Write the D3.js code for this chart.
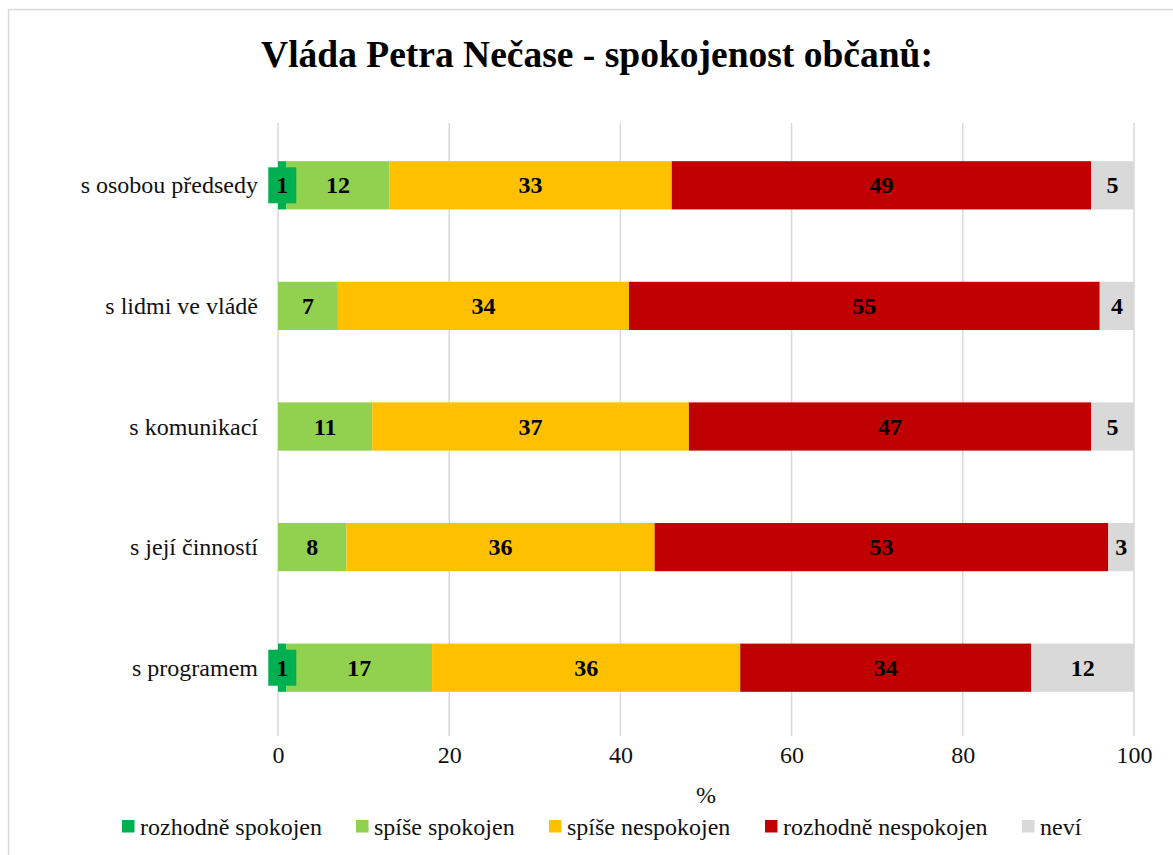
<!DOCTYPE html>
<html>
<head>
<meta charset="utf-8">
<script src="https://cdn.jsdelivr.net/npm/d3@7"></script>
<style>
  body { margin: 0; background: #fff; }
  text { font-family: "Liberation Serif", "Times New Roman", serif; }
</style>
</head>
<body>
<script>
const categories = ["s osobou předsedy", "s lidmi ve vládě", "s komunikací", "s její činností", "s programem"];
const seriesNames = ["rozhodně spokojen", "spíše spokojen", "spíše nespokojen", "rozhodně nespokojen", "neví"];
const colors = ["#00B050", "#92D050", "#FFC000", "#C00000", "#D9D9D9"];
const rozhodneSpokojen = [1, 0, 0, 0, 1];
const spiseSpokojen = [12, 7, 11, 8, 17];
const spiseNespokojen = [33, 34, 37, 36, 36];
const rozhodneNespokojen = [49, 55, 47, 53, 34];
const nevi = [5, 4, 5, 3, 12];
const xTicks = [0, 20, 40, 60, 80, 100];

const w = 1173, h = 855;
const svg = d3.select("body").append("svg").attr("width", w).attr("height", h);

// chart frame
svg.append("rect").attr("x", 8.5).attr("y", 9.5).attr("width", w).attr("height", h)
  .attr("fill", "#fff").attr("stroke", "#d9d9d9").attr("stroke-width", 1.5);

svg.append("text").attr("x", 597).attr("y", 67).attr("text-anchor", "middle")
  .attr("font-size", 37.5).attr("font-weight", "bold").text("Vláda Petra Nečase - spokojenost občanů:");

const table = categories.map((c, i) => ({
  cat: c,
  vals: [rozhodneSpokojen[i], spiseSpokojen[i], spiseNespokojen[i], rozhodneNespokojen[i], nevi[i]]
}));

const x = d3.scaleLinear().domain([0, 100]).range([278, 1134]);
const y = d3.scaleBand().domain(categories).range([125, 728]).paddingInner(0.6).paddingOuter(0.3);

// gridlines
svg.append("g").selectAll("line").data(xTicks).enter().append("line")
  .attr("x1", d => x(d)).attr("x2", d => x(d))
  .attr("y1", 123).attr("y2", 736)
  .attr("stroke", "#d9d9d9").attr("stroke-width", 1.5);

// x axis labels
const xAxis = d3.axisBottom(x).tickValues(xTicks).tickSize(0).tickPadding(0);
const ax = svg.append("g").attr("transform", "translate(0,763)").call(xAxis);
ax.select(".domain").remove();
ax.selectAll("text").attr("font-size", 24).attr("fill", "#111")
  .attr("font-family", "Liberation Serif, Times New Roman, serif").attr("dy", 0);

svg.append("text").attr("x", 706).attr("y", 803).attr("text-anchor", "middle")
  .attr("font-size", 24).attr("fill", "#111").text("%");

// category labels
svg.append("g").selectAll("text").data(categories).enter().append("text")
  .attr("x", 258).attr("y", d => y(d) + y.bandwidth() / 2 + 8)
  .attr("text-anchor", "end").attr("font-size", 24).attr("fill", "#111").text(d => d);

// stacked segments
const segs = [];
table.forEach(r => {
  let acc = 0;
  r.vals.forEach((v, k) => {
    if (v > 0) segs.push({ cat: r.cat, k, v, x0: acc, x1: acc + v });
    acc += v;
  });
});

svg.append("g").selectAll("rect").data(segs).enter().append("rect")
  .attr("x", d => x(d.x0)).attr("width", d => x(d.x1) - x(d.x0))
  .attr("y", d => y(d.cat)).attr("height", y.bandwidth())
  .attr("fill", d => colors[d.k]);

// callout box for tiny values
const small = segs.filter(d => d.v < 3);
svg.append("g").selectAll("rect").data(small).enter().append("rect")
  .attr("x", d => x((d.x0 + d.x1) / 2) - 14).attr("width", 28)
  .attr("y", d => y(d.cat) + y.bandwidth() / 2 - 18).attr("height", 36)
  .attr("fill", d => colors[d.k]);

svg.append("g").selectAll("text").data(segs).enter().append("text")
  .attr("x", d => x((d.x0 + d.x1) / 2))
  .attr("y", d => y(d.cat) + y.bandwidth() / 2 + 8)
  .attr("text-anchor", "middle").attr("font-size", 24).attr("font-weight", "bold")
  .text(d => d.v);

// legend
const legendX = [122, 356, 549, 765, 1022];
const lg = svg.append("g").selectAll("g").data(seriesNames).enter().append("g")
  .attr("transform", (d, i) => `translate(${legendX[i]},820)`);
lg.append("rect").attr("width", 12.5).attr("height", 12.5).attr("fill", (d, i) => colors[i]);
lg.append("text").attr("x", 18).attr("y", 15).attr("font-size", 24).attr("fill", "#111").text(d => d);
</script>
</body>
</html>
